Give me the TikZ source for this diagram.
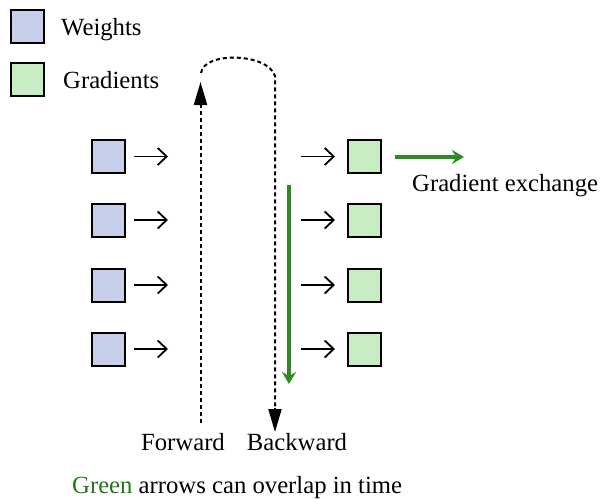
\documentclass[tikz,border=0pt]{standalone}
\usepackage{fontspec}
\setmainfont{Liberation Serif}
\newfontfamily\tnr{Liberation Serif}
\usetikzlibrary{arrows.meta}
\definecolor{wfill}{RGB}{198,206,234}
\definecolor{gfill}{RGB}{200,237,196}
\definecolor{garrow}{RGB}{46,139,34}
\definecolor{gtext}{RGB}{34,120,20}
\tikzset{
  wbox/.style={draw=black,line width=2pt,fill=wfill,minimum size=33pt,inner sep=0pt},
  gbox/.style={draw=black,line width=2pt,fill=gfill,minimum size=33pt,inner sep=0pt},
  lbl/.style={font=\tnr\fontsize{24.7}{29}\selectfont,inner sep=0pt},
  thin/.style={line width=1.8pt,-{Straight Barb[length=9pt,width=17pt,line width=1.8pt]}},
  dots/.style={line width=2pt,dash pattern=on 4pt off 3pt},
  garr/.style={draw=garrow,line width=4pt,-{Stealth[length=12pt,width=14pt,inset=4pt]}},
  bhead/.style={line width=2pt,-{Triangle[length=23pt,width=13pt]}}
}
\begin{document}
\begin{tikzpicture}[x=1pt,y=-1pt]
\useasboundingbox (0,0) rectangle (601,498);
% legend
\node[wbox] (lw) at (27,26.5) {};
\node[lbl,anchor=base west] (lwt) at (61,35) {Weights};
\node[gbox] (lg) at (27,79.5) {};
\node[lbl,anchor=base west] (lgt) at (63,88) {Gradients};
% rows
\foreach \i/\y in {1/156.5,2/220,3/285,4/349}{
  \node[wbox] (w\i) at (108.5,\y) {};
  \node[gbox] (g\i) at (364.5,\y) {};
  \coordinate (wa\i) at (134,\y);
  \coordinate (wb\i) at (168,\y);
  \coordinate (ga\i) at (301,\y);
  \coordinate (gb\i) at (335,\y);
  \draw[thin] (wa\i) -- (wb\i);
  \draw[thin] (ga\i) -- (gb\i);
}
% forward / backward
\coordinate (fbot) at (200.5,423);
\coordinate (ftop) at (200.5,82);
\coordinate (cstart) at (201,73);
\coordinate (cend) at (275,76);
\coordinate (btip) at (275,432);
\draw[dots] (fbot) -- (200.5,105);
\draw[bhead] (200.5,106) -- (ftop);
\draw[dots] (cstart) .. controls (204,51) and (268,53) .. (cend) -- (275,409);
\draw[bhead] (275,408) -- (btip);
% green arrows
\coordinate (gv1) at (289,185);
\coordinate (gv2) at (289,384);
\draw[garr] (gv1) -- (gv2);
\coordinate (gh1) at (395,157);
\coordinate (gh2) at (464,157);
\draw[garr] (gh1) -- (gh2);
% labels
\node[lbl,anchor=base west] (ge) at (412,191) {Gradient exchange};
\node[lbl,anchor=base] (fw) at (183,450) {Forward};
\node[lbl,anchor=base] (bw) at (297,450) {Backward};
\node[lbl,anchor=base west] (note) at (72,493) {\textcolor{gtext}{Green} arrows can overlap in time};
\end{tikzpicture}
\end{document}
